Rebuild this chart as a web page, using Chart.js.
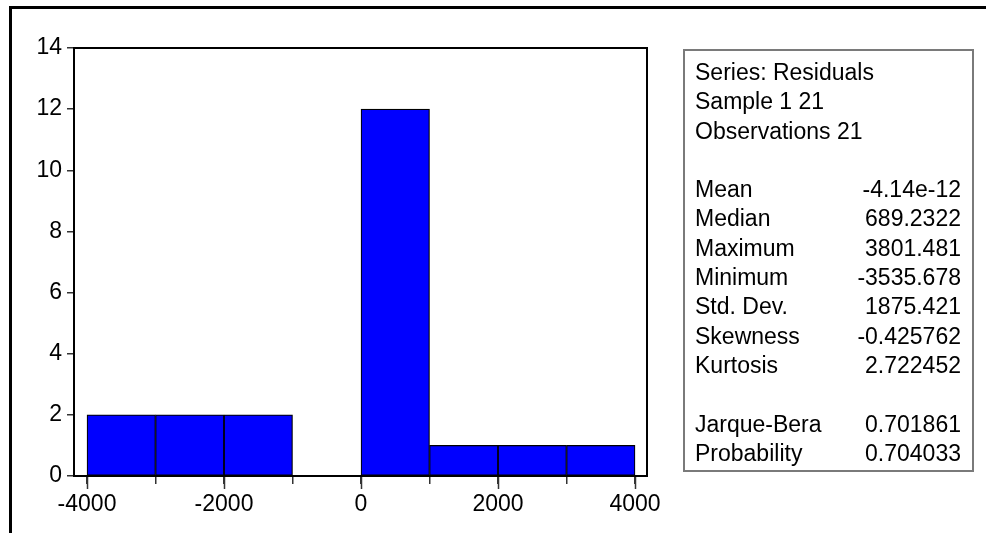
<!DOCTYPE html>
<html>
<head>
<meta charset="utf-8">
<script src="https://cdn.jsdelivr.net/npm/chart.js@4"></script>
<style>
    html, body { margin: 0; padding: 0; background: #fff; }
    body { width: 986px; height: 533px; position: relative; overflow: hidden;
           font-family: "Liberation Sans", Arial, sans-serif; color: #000; }
    #frame { position: absolute; left: 9px; top: 6px; width: 1000px; height: 600px;
             border-top: 3px solid #000; border-left: 3px solid #000; }
    #wrap { position: absolute; left: 0; top: 0; width: 986px; height: 533px; }
    #stats { position: absolute; left: 683px; top: 49px; width: 287px; height: 419px;
             border: 2px solid #7a7a7a; padding: 0; box-sizing: content-box; }
    #stats table { position: absolute; left: 10px; top: 7px; width: 266px;
                   border-collapse: collapse; font-size: 23px; }
    #stats td { padding: 0; height: 29.3px; line-height: 29.3px; white-space: nowrap; }
    #stats td.v { text-align: right; }
</style>
</head>
<body>
<div id="frame"></div>
<div id="wrap"><canvas id="histChart" width="986" height="533"></canvas></div>
<div id="stats"><table id="statsTable"></table></div>
<script>
    "use strict";

    // ---- Histogram data (bins of width 1000) ----
    const binCenters = [-3500, -2500, -1500, -500, 500, 1500, 2500, 3500];
    const binCounts  = [2, 2, 2, 0, 12, 1, 1, 1];

    // ---- Axis ticks ----
    const xTicks      = [-4000, -3000, -2000, -1000, 0, 1000, 2000, 3000, 4000];
    const xLabelTicks = [-4000, -2000, 0, 2000, 4000];
    const yTicks      = [0, 2, 4, 6, 8, 10, 12, 14];

    // ---- Stats box ----
    const headerLines = ["Series: Residuals", "Sample 1 21", "Observations 21"];
    const statNames   = ["Mean", "Median", "Maximum", "Minimum", "Std. Dev.", "Skewness", "Kurtosis"];
    const statValues  = ["-4.14e-12", "689.2322", "3801.481", "-3535.678", "1875.421", "-0.425762", "2.722452"];
    const testNames   = ["Jarque-Bera", "Probability"];
    const testValues  = ["0.701861", "0.704033"];

    const FONT = { family: "'Liberation Sans', Arial, sans-serif", size: 23 };

    function buildStats() {
        const t = document.getElementById("statsTable");
        const rows = [];
        headerLines.forEach(h => rows.push('<tr><td colspan="2">' + h + '</td></tr>'));
        rows.push('<tr><td colspan="2"></td></tr>');
        statNames.forEach((n, i) => rows.push('<tr><td>' + n + '</td><td class="v">' + statValues[i] + '</td></tr>'));
        rows.push('<tr><td colspan="2"></td></tr>');
        testNames.forEach((n, i) => rows.push('<tr><td>' + n + '</td><td class="v">' + testValues[i] + '</td></tr>'));
        t.innerHTML = rows.join("");
    }

    // plot frame + longer ticks under labelled x values
    const framePlugin = {
        id: "frame",
        afterDraw(chart) {
            const { ctx, chartArea: a } = chart;
            const xs = chart.scales.x;
            ctx.save();
            ctx.strokeStyle = "#333";
            ctx.lineWidth = 1.5;
            xLabelTicks.forEach(v => {
                const px = Math.round(xs.getPixelForValue(v)) + 0.5;
                ctx.beginPath();
                ctx.moveTo(px, a.bottom);
                ctx.lineTo(px, a.bottom + 13);
                ctx.stroke();
            });
            ctx.strokeStyle = "#000";
            ctx.lineWidth = 2;
            ctx.strokeRect(a.left, a.top, a.right - a.left, a.bottom - a.top);
            ctx.restore();
        },
    };

    function renderHistogram() {
        const ctx = document.getElementById("histChart");
        new Chart(ctx, {
            type: "bar",
            data: {
                datasets: [{
                    data: binCenters.map((c, i) => ({ x: c, y: binCounts[i] })),
                    backgroundColor: "#0000ff",
                    borderColor: "#000",
                    borderWidth: 1.2,
                    borderSkipped: false,
                    barPercentage: 1,
                    categoryPercentage: 1,
                }],
            },
            options: {
                responsive: false,
                animation: false,
                events: [],
                layout: { padding: { top: 48, right: 339, left: 0, bottom: 0 } },
                plugins: { legend: { display: false }, tooltip: { enabled: false } },
                scales: {
                    x: {
                        type: "linear",
                        offset: false,
                        min: -4190,
                        max: 4175,
                        afterFit: s => { s.height = 57; },
                        afterBuildTicks: s => { s.ticks = xTicks.map(v => ({ value: v })); },
                        grid: { offset: false, drawOnChartArea: false, drawTicks: true, tickLength: 8, color: "#333", lineWidth: 1.5 },
                        border: { display: false },
                        ticks: {
                            autoSkip: false, maxRotation: 0, padding: 7,
                            color: "#000", font: FONT,
                            callback: v => xLabelTicks.includes(v) ? String(v) : "",
                        },
                    },
                    y: {
                        min: 0,
                        max: 14,
                        afterFit: s => { s.width = 74; },
                        afterBuildTicks: s => { s.ticks = yTicks.map(v => ({ value: v })); },
                        grid: { drawOnChartArea: false, drawTicks: true, tickLength: 7, color: "#333", lineWidth: 1.5 },
                        border: { display: false },
                        ticks: { padding: 5, color: "#000", font: FONT },
                    },
                },
            },
            plugins: [framePlugin],
        });
    }

    buildStats();
    renderHistogram();
</script>
</body>
</html>
